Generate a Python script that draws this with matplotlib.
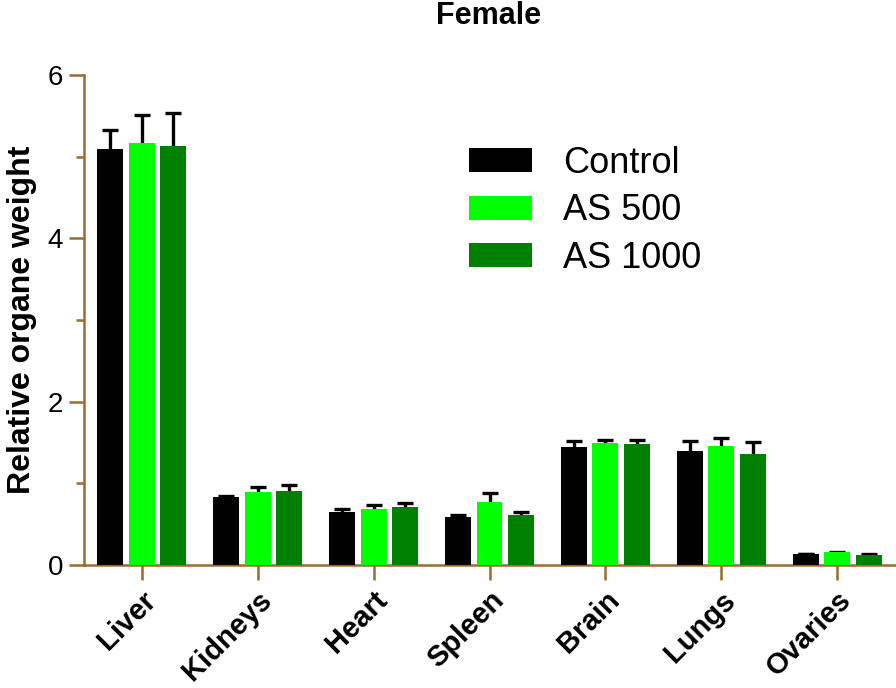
import numpy as np
import matplotlib
matplotlib.use('Agg')
import matplotlib.pyplot as plt
from matplotlib.ticker import MultipleLocator

# ── DATA ─────────────────────────────────────────────────────────────────
ORGANS = ['Liver', 'Kidneys', 'Heart', 'Spleen', 'Brain', 'Lungs', 'Ovaries']
GROUPS = ['Control', 'AS 500', 'AS 1000']

control     = [5.09, 0.83, 0.65, 0.59, 1.44, 1.40, 0.135]
control_err = [0.24, 0.02, 0.04, 0.02, 0.08, 0.12, 0.005]
as500       = [5.17, 0.89, 0.69, 0.77, 1.50, 1.46, 0.155]
as500_err   = [0.34, 0.06, 0.04, 0.11, 0.03, 0.09, 0.01]
as1000      = [5.13, 0.91, 0.71, 0.61, 1.485, 1.36, 0.126]
as1000_err  = [0.41, 0.07, 0.05, 0.04, 0.04, 0.15, 0.01]

# ── STYLE ────────────────────────────────────────────────────────────────
BROWN = '#9C6B2E'
COLORS = ['#000000', '#00FF00', '#008000']
plt.rcParams['font.family'] = ['Liberation Sans', 'DejaVu Sans']

fig = plt.figure(figsize=(8.96, 6.88), dpi=100)
ax = fig.add_axes([84/896, 1-565/688, 811/896, 490/688])

x = np.arange(len(ORGANS))
step = 0.272
width = 0.224
series = [(control, control_err), (as500, as500_err), (as1000, as1000_err)]

for i, ((vals, errs), col, lab) in enumerate(zip(series, COLORS, GROUPS)):
    pos = x + (i - 1) * step
    ax.bar(pos, vals, width=width, color=col, label=lab, zorder=3)
    # symmetric bars drawn behind: lower half is hidden by the bar
    ax.errorbar(pos, vals, yerr=errs, fmt='none',
                ecolor='black', elinewidth=2.4, capsize=5.5, capthick=2.4,
                zorder=2)

ax.set_xlim(-0.5, 6.5)
ax.set_ylim(0, 6)

for side in ['top', 'right']:
    ax.spines[side].set_visible(False)
for side in ['left', 'bottom']:
    ax.spines[side].set_color(BROWN)
    ax.spines[side].set_linewidth(1.8)

ax.yaxis.set_major_locator(MultipleLocator(2))
ax.yaxis.set_minor_locator(MultipleLocator(1))
ax.tick_params(axis='y', which='major', length=11, width=1.8, color=BROWN,
               labelsize=20, pad=4)
ax.tick_params(axis='y', which='minor', length=6, width=1.8, color=BROWN)
ax.tick_params(axis='x', which='major', length=11, width=1.8, color=BROWN,
               pad=4)
ax.set_xticks(x)
ax.set_xticklabels(ORGANS, rotation=45, ha='right', rotation_mode='anchor',
                   fontsize=21, fontweight='bold')

ax.set_ylabel('Relative organe weight', fontsize=23, fontweight='bold',
              labelpad=8)
fig.text(489/896, 1-16/688, 'Female', ha='center', va='center',
         fontsize=22, fontweight='bold')

ax.legend(loc='upper left', bbox_to_anchor=(469/896, 1-146/688),
          bbox_transform=fig.transFigure, frameon=False, fontsize=26,
          handlelength=1.75, handleheight=0.64, handletextpad=0.85,
          labelspacing=0.34, borderpad=0, borderaxespad=0)

fig.savefig('out.png', dpi=100, facecolor='white')
plt.close(fig)
